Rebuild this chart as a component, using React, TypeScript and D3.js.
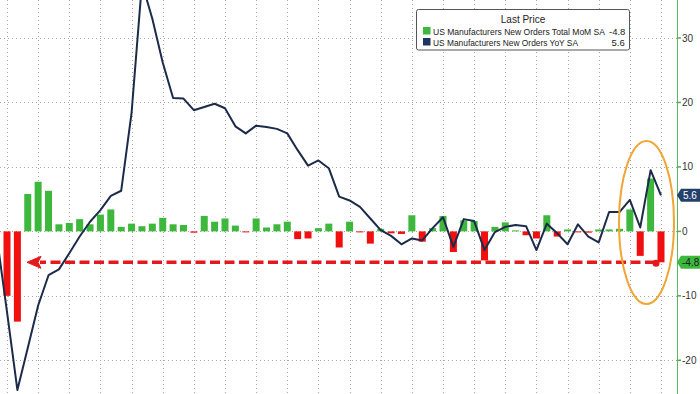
import React from "react";
import * as d3 from "d3";

// Monthly, Feb 2020 .. Jun 2025
const months: string[] = d3.range(0, 65).map((i) => {
  const d = new Date(2020, 1 + i, 1);
  return d3.timeFormat("%Y-%m")(d);
});

const momValues: number[] = [
  -0.2, -10.0, -14.0, 5.8, 7.7, 6.3, 1.1, 1.3, 1.9, 1.1, 2.6, 3.4, 0.7, 1.2, 0.8, 1.2,
  2.1, 1.1, 1.0, -0.2, 2.4, 1.5, 2.0, 0.9, -0.1, 2.0, 0.6, 1.1, 1.5, -1.2, -1.1, 0.5,
  1.2, -2.5, 1.5, -0.1, -1.9, 0.4, -0.3, -0.4, 2.5, -1.6, 0.5, 2.4, -3.2, 1.7, 1.6, -4.5,
  0.7, 1.4, 0.1, -0.6, -1.1, 2.5, -0.8, 0.3, -0.1, -0.2, 0.3, 0.3, 0.4, 3.4, -3.8, 8.2,
  -4.8,
];

const yoyValues: number[] = [
  -0.6, -12.5, -24.6, -18.1, -11.5, -6.8, -5.9, -3.4, -0.8, 1.5, 3.3, 5.5, 6.3, 18.4, 38.5, 33.0,
  26.2, 20.7, 20.6, 18.8, 19.3, 19.8, 19.1, 16.3, 15.2, 16.4, 16.2, 15.9, 15.2, 12.6, 10.2, 11.0,
  9.8, 5.4, 4.8, 3.8, 2.0, 0.2, -0.7, -2.0, -1.1, -1.4, 0.5, 2.2, -2.4, 1.9, 1.6, -2.9,
  -0.1, 0.7, 1.0, 0.8, -2.9, 1.2, -0.3, -2.0, 1.1, -0.8, -1.7, 3.0, 3.0, 4.9, 0.6, 9.5,
  5.6,
];

const yTicks: number[] = [-20, -10, 0, 10, 20, 30];
const legendTitle = "Last Price";
const seriesNames: string[] = [
  "US Manufacturers New Orders Total MoM SA",
  "US Manufacturers New Orders YoY SA",
];
const lastMoM = momValues[momValues.length - 1];
const lastYoY = yoyValues[yoyValues.length - 1];

const W = 700;
const H = 394;
const AXIS_X = 677;

const GREEN = "#3db83d";
const RED = "#f01010";
const NAVY = "#1c2b4a";
const GRID = "#a8a8a8";
const FONT = "'Liberation Sans', Arial, sans-serif";

export default function App() {
  const x = d3.scaleLinear().domain([0, 64]).range([-3.38, 661]);
  const y = d3.scaleLinear().domain([-20, 30]).range([360.3, 38]);
  const barW = 7;

  const line = d3
    .line<number>()
    .x((_, i) => x(i))
    .y((d) => y(d));

  const vGrid = d3.range(1, 65, 3);
  const lastIdx = momValues.length - 1;
  const arrowY = y(lastMoM);

  return (
    <svg
      width={W}
      height={H}
      style={{ position: "absolute", left: 0, top: 0, background: "#fff" }}
      fontFamily={FONT}
    >
      <defs>
        <clipPath id="plot">
          <rect x={0} y={0} width={AXIS_X} height={H} />
        </clipPath>
      </defs>
      {/* grid */}
      <g stroke={GRID} strokeWidth={1} strokeDasharray="1,3">
        {yTicks.map((t) => (
          <line key={"h" + t} x1={0} x2={AXIS_X} y1={Math.round(y(t)) + 0.5} y2={Math.round(y(t)) + 0.5} />
        ))}
        {vGrid.map((i) => (
          <line key={"v" + i} x1={Math.round(x(i)) + 0.5} x2={Math.round(x(i)) + 0.5} y1={0} y2={H} />
        ))}
      </g>
      <g clipPath="url(#plot)">
        {/* bars */}
        {momValues.map((v, i) => {
          const y0 = y(0);
          const yv = y(v);
          const h = Math.max(1, Math.abs(yv - y0));
          return (
            <rect
              key={months[i]}
              x={x(i) - barW / 2}
              y={v >= 0 ? y0 - h : y0}
              width={barW}
              height={h}
              fill={v >= 0 ? GREEN : RED}
            />
          );
        })}
        {/* red dashed arrow */}
        <line
          x1={x(lastIdx) - 6}
          x2={40}
          y1={arrowY}
          y2={arrowY}
          stroke="#e3191c"
          strokeWidth={3.5}
          strokeDasharray="10,4.5"
        />
        <path
          d={`M27,${arrowY} L41,${arrowY - 6} L38,${arrowY} L41,${arrowY + 6} Z`}
          fill="#e3191c"
          stroke="#e3191c"
          strokeWidth={1}
        />
        <circle cx={x(lastIdx) - 5} cy={arrowY + 1} r={3.5} fill="#e3191c" />
        {/* YoY line */}
        <path d={line(yoyValues) || ""} fill="none" stroke={NAVY} strokeWidth={2} strokeLinejoin="round" />
      </g>
      {/* orange ellipse */}
      <ellipse
        cx={646.5}
        cy={222.5}
        rx={27.5}
        ry={81.5}
        fill="none"
        stroke="#f0a535"
        strokeWidth={2}
      />
      {/* right axis */}
      <line x1={AXIS_X + 0.5} x2={AXIS_X + 0.5} y1={0} y2={H} stroke="#5cb85c" strokeWidth={1} />
      {yTicks.map((t) => (
        <g key={"t" + t}>
          <line x1={AXIS_X} x2={AXIS_X + 4} y1={y(t)} y2={y(t)} stroke="#4caf50" strokeWidth={1.5} />
          <text x={AXIS_X + 5} y={y(t) + 3.5} fontSize={10} fill="#333">
            {t}
          </text>
        </g>
      ))}
      {/* last value labels */}
      <g>
        <path
          d={`M${AXIS_X},${y(lastYoY)} L${AXIS_X + 4},${y(lastYoY) - 6.5} L${W},${y(lastYoY) - 6.5} L${W},${y(lastYoY) + 6.5} L${AXIS_X + 4},${y(lastYoY) + 6.5} Z`}
          fill="#23406a"
        />
        <text x={AXIS_X + 6} y={y(lastYoY) + 3.5} fontSize={10} fill="#fff">
          {lastYoY.toFixed(1)}
        </text>
        <path
          d={`M${AXIS_X},${y(lastMoM)} L${AXIS_X + 4},${y(lastMoM) - 6.5} L${W},${y(lastMoM) - 6.5} L${W},${y(lastMoM) + 6.5} L${AXIS_X + 4},${y(lastMoM) + 6.5} Z`}
          fill="#3cb83c"
        />
        <text x={AXIS_X + 5} y={y(lastMoM) + 3.5} fontSize={10} fill="#1a1a1a">
          {lastMoM.toFixed(1)}
        </text>
      </g>
      {/* legend */}
      <g>
        <rect x={416.5} y={9.5} width={213} height={40.5} rx={2} fill="#fff" stroke="#555" strokeWidth={1} />
        <text x={523} y={23} fontSize={10} fill="#222" textAnchor="middle">
          {legendTitle}
        </text>
        <rect x={423} y={27} width={7.5} height={7.5} fill={GREEN} />
        <text x={433} y={34.5} fontSize={8.6} fill="#222" textLength={172} lengthAdjust="spacingAndGlyphs">
          {seriesNames[0]}
        </text>
        <text x={609} y={34.5} fontSize={9.5} fill="#222">
          {lastMoM.toFixed(1)}
        </text>
        <rect x={423} y={38} width={7.5} height={7.5} fill="#1f3560" />
        <text x={433} y={45.5} fontSize={8.6} fill="#222" textLength={145} lengthAdjust="spacingAndGlyphs">
          {seriesNames[1]}
        </text>
        <text x={611.5} y={45.5} fontSize={9.5} fill="#222">
          {lastYoY.toFixed(1)}
        </text>
      </g>
    </svg>
  );
}
